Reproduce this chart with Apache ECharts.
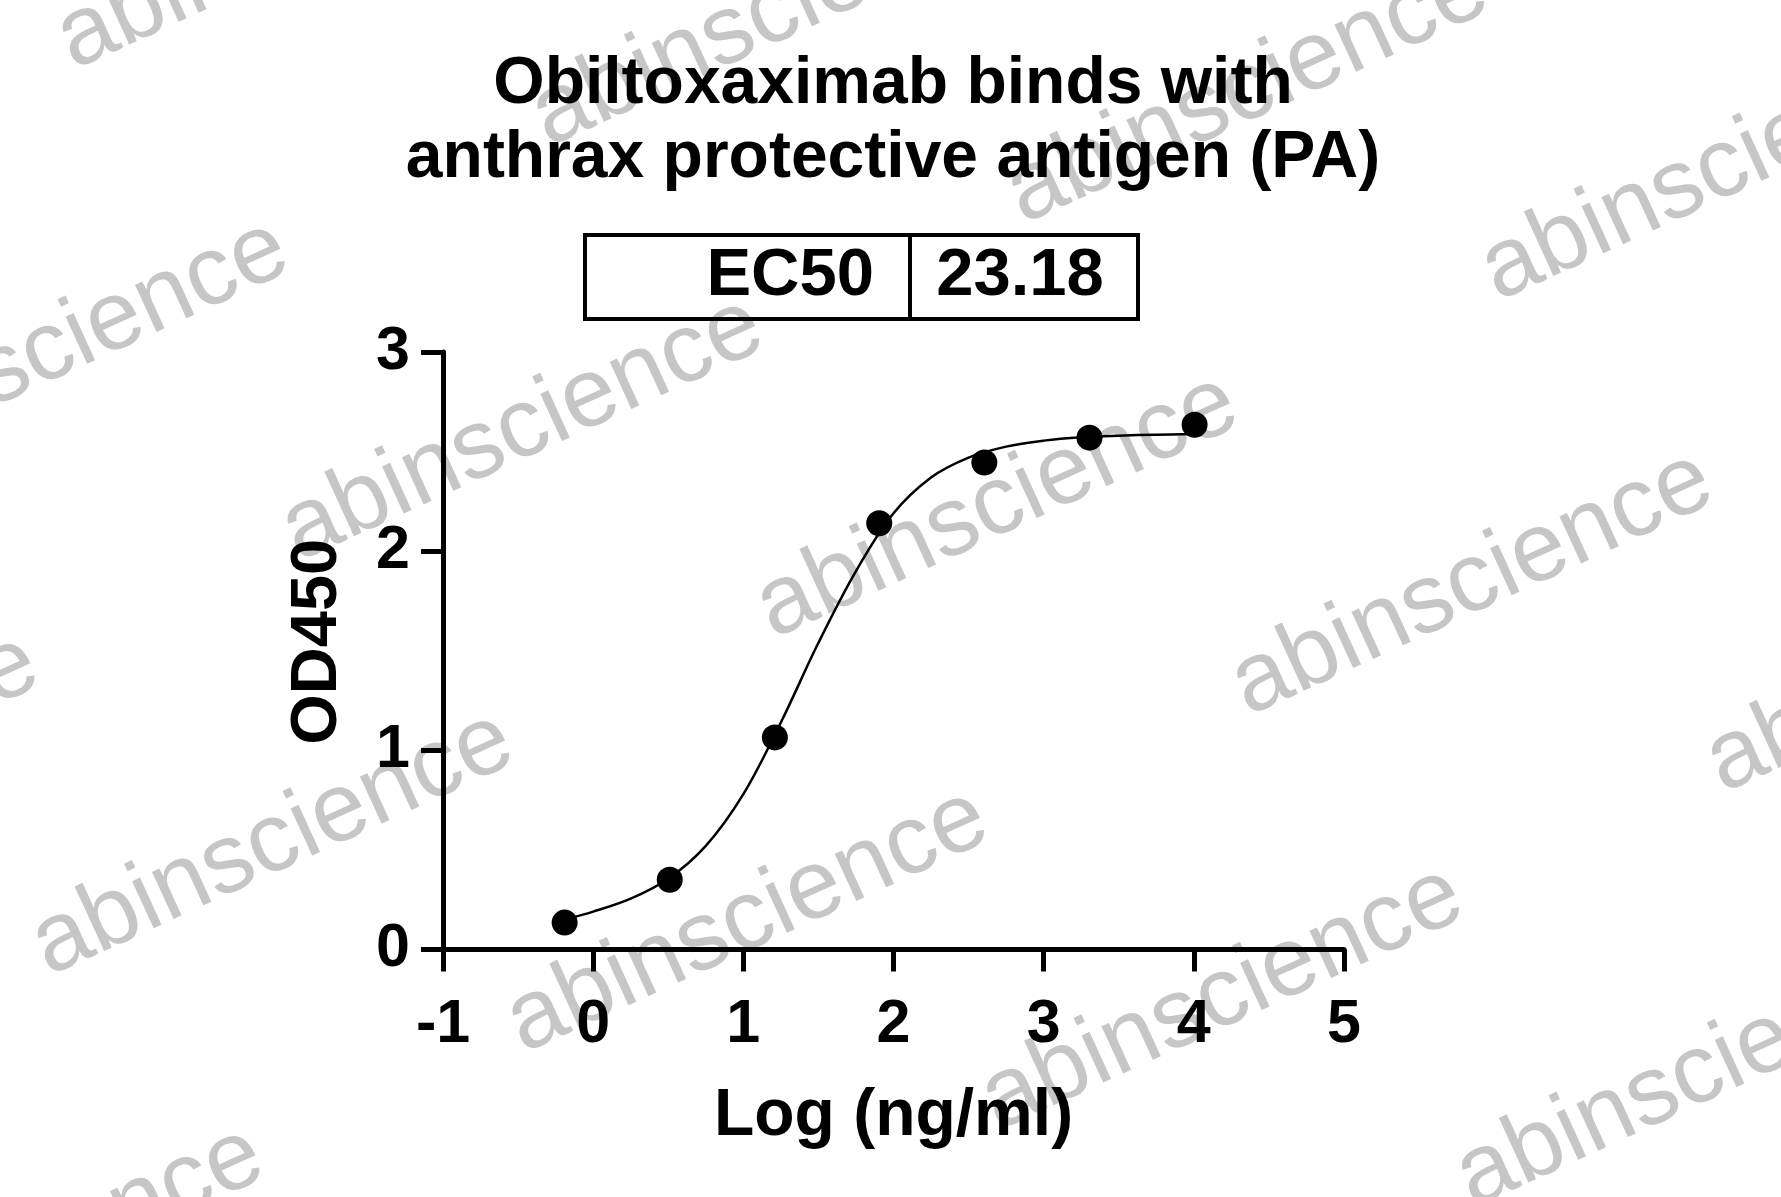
<!DOCTYPE html>
<html>
<head>
<meta charset="utf-8">
<script src="https://cdn.jsdelivr.net/npm/echarts@6/dist/echarts.min.js"></script>
<style>
  html, body { margin: 0; padding: 0; background: #ffffff; }
  #chart { width: 1781px; height: 1197px; }
</style>
</head>
<body>
<div id="chart"></div>
<script>
// ---- data ----
const titleLines = ['Obiltoxaximab binds with', 'anthrax protective antigen (PA)'];
const ec50Label = 'EC50';
const ec50Value = '23.18';
const xAxisName = 'Log (ng/ml)';
const yAxisName = 'OD450';
const watermarkText = 'abinscience';

// measured points: log10 concentration vs OD450
const logConc = [-0.19, 0.51, 1.21, 1.905, 2.605, 3.305, 4.005];
const od450 = [0.135, 0.35, 1.065, 2.14, 2.445, 2.57, 2.635];

// fitted curve
const curveX = [-0.19, 0, 0.25, 0.5, 0.75, 1.0, 1.25, 1.5, 1.75, 2.0, 2.25, 2.5, 2.75, 3.0, 3.25, 3.5, 3.75, 4.0];
const curveY = [0.15, 0.19, 0.255, 0.355, 0.52, 0.78, 1.14, 1.54, 1.90, 2.19, 2.37, 2.47, 2.525, 2.555, 2.572, 2.58, 2.585, 2.588];

// axis ranges / ticks
const xMin = -1, xMax = 5, xStep = 1;
const yMin = 0, yMax = 3, yStep = 1;

const FONT = "'Liberation Sans', Arial, Helvetica, sans-serif";

const chart = echarts.init(document.getElementById('chart'), null, { renderer: 'canvas' });

// watermark lattice (decoration)
const wm = [];
const base = [522.5, 429.3], va = [474.8, 77.2], vb = [-249.9, 414.6];
for (let i = -3; i <= 4; i++) {
  for (let j = -3; j <= 4; j++) {
    const cx = base[0] + i * va[0] + j * vb[0];
    const cy = base[1] + i * va[1] + j * vb[1];
    if (cx < -320 || cx > 2100 || cy < -160 || cy > 1360) continue;
    wm.push({
      type: 'text', x: cx, y: cy, rotation: 0.43, z: 0, silent: true,
      style: { text: watermarkText, fontSize: 98, fontFamily: FONT, fill: '#c6c6c6',
               align: 'center', verticalAlign: 'middle' }
    });
  }
}

const option = {
  backgroundColor: '#ffffff',
  animation: false,
  grid: { left: 443, right: 437, top: 352, bottom: 247.5, containLabel: false, outerBoundsMode: 'none' },
  xAxis: {
    type: 'value', min: xMin, max: xMax, interval: xStep,
    name: xAxisName, nameLocation: 'middle', nameGap: 134,
    nameTextStyle: { fontSize: 66, fontWeight: 'bold', fontFamily: FONT, color: '#000' },
    axisLine: { show: true, onZero: false, lineStyle: { color: '#000', width: 5 } },
    axisTick: { show: true, length: 22, lineStyle: { color: '#000', width: 5 } },
    axisLabel: { margin: 45, fontSize: 61, fontWeight: 'bold', fontFamily: FONT, color: '#000',
                 showMinLabel: true, showMaxLabel: true },
    splitLine: { show: false }
  },
  yAxis: {
    type: 'value', min: yMin, max: yMax, interval: yStep,
    name: yAxisName, nameLocation: 'middle', nameGap: 92, nameRotate: 90,
    nameTextStyle: { fontSize: 65, fontWeight: 'bold', fontFamily: FONT, color: '#000',
                     padding: [0, 0, 0, 18] },
    axisLine: { show: true, onZero: false, lineStyle: { color: '#000', width: 5 } },
    axisTick: { show: true, length: 22, lineStyle: { color: '#000', width: 5 } },
    axisLabel: { margin: 33, fontSize: 61, fontWeight: 'bold', fontFamily: FONT, color: '#000',
                 showMinLabel: true, showMaxLabel: true },
    splitLine: { show: false }
  },
  graphic: wm.concat([
    { type: 'text', x: 893, y: 85, z: 10,
      style: { text: titleLines[0], fontSize: 66, fontWeight: 'bold', fontFamily: FONT, fill: '#000',
               align: 'center', verticalAlign: 'middle' } },
    { type: 'text', x: 893, y: 159, z: 10,
      style: { text: titleLines[1], fontSize: 66, fontWeight: 'bold', fontFamily: FONT, fill: '#000',
               align: 'center', verticalAlign: 'middle' } },
    { type: 'rect', z: 10, shape: { x: 585, y: 235, width: 553, height: 84 },
      style: { fill: 'none', stroke: '#000', lineWidth: 4 } },
    { type: 'line', z: 10, shape: { x1: 910, y1: 235, x2: 910, y2: 319 },
      style: { stroke: '#000', lineWidth: 4 } },
    { type: 'text', x: 874, y: 277, z: 10,
      style: { text: ec50Label, fontSize: 67, fontWeight: 'bold', fontFamily: FONT, fill: '#000',
               align: 'right', verticalAlign: 'middle' } },
    { type: 'text', x: 1020, y: 277, z: 10,
      style: { text: ec50Value, fontSize: 67, fontWeight: 'bold', fontFamily: FONT, fill: '#000',
               align: 'center', verticalAlign: 'middle' } }
  ]),
  series: [
    {
      type: 'line', name: 'fit',
      data: curveX.map((x, i) => [x, curveY[i]]),
      smooth: 0.35, showSymbol: false, symbol: 'none',
      lineStyle: { color: '#000', width: 2.5 }, z: 3
    },
    {
      type: 'scatter', name: 'data',
      data: logConc.map((x, i) => [x, od450[i]]),
      symbol: 'circle', symbolSize: 26,
      itemStyle: { color: '#000', opacity: 1 }, z: 4
    }
  ]
};
chart.setOption(option);
</script>
</body>
</html>
